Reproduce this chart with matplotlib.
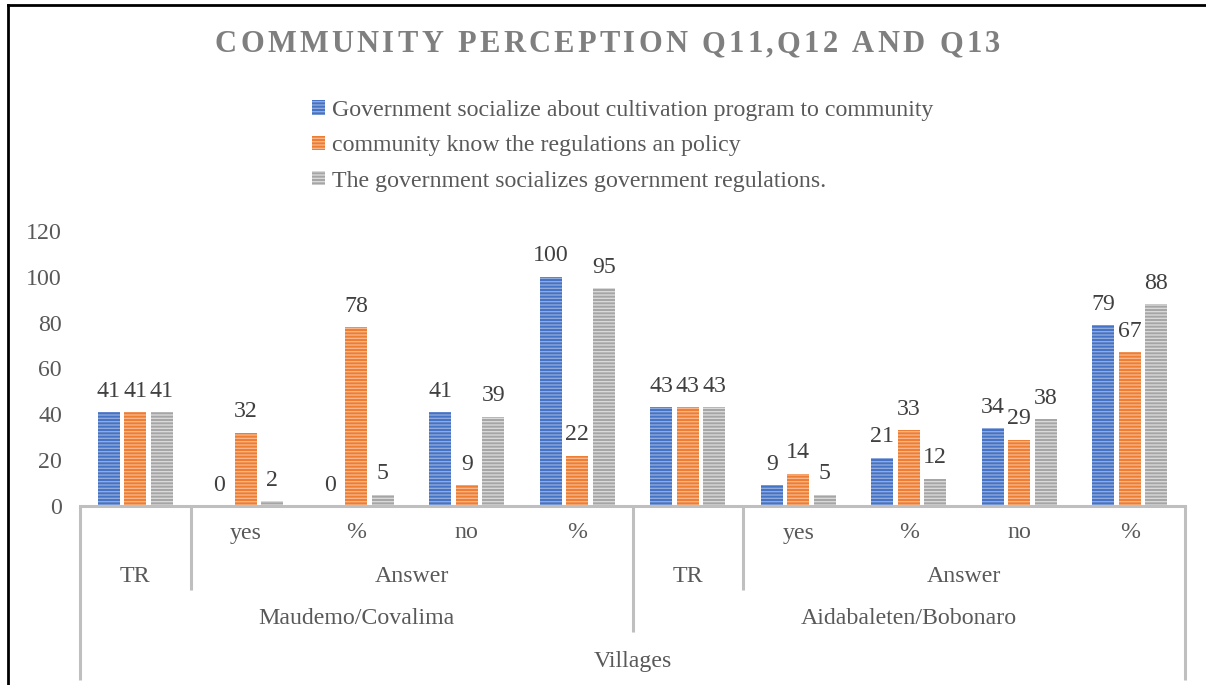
import matplotlib
matplotlib.use("Agg")
import matplotlib.pyplot as plt
import matplotlib.transforms as mtransforms
import numpy as np

# data
answers = ["TR", "yes", "%", "no", "%", "TR", "yes", "%", "no", "%"]
gov_socialize_program = [41, 0, 0, 41, 100, 43, 9, 21, 34, 79]
community_know_regs = [41, 32, 78, 9, 22, 43, 14, 33, 29, 67]
gov_socialize_regs = [41, 2, 5, 39, 95, 43, 5, 12, 38, 88]
series_names = ["Government socialize about cultivation program to community",
                "community know the regulations an policy",
                "The government socializes government regulations."]
villages = ["Maudemo/Covalima", "Aidabaleten/Bobonaro"]

plt.rcParams['font.family'] = ['Liberation Serif', 'DejaVu Serif']
plt.rcParams['hatch.linewidth'] = 1.0

colors = ["#4472C4", "#ED7D31", "#A5A5A5"]
stripes = ["#8FAADC", "#F6B58A", "#D9D9D9"]
axis_grey = "#BFBFBF"
text_grey = "#595959"
fs = 17.2

W, H = 1206, 685
fig = plt.figure(figsize=(W/100, H/100), dpi=100)
ax = fig.add_axes([80/W, 1-506/H, 1105/W, 275/H])

x = np.arange(len(answers))
width = 0.2
step = 0.24
bars = []
for i, vals in enumerate([gov_socialize_program, community_know_regs, gov_socialize_regs]):
    b = ax.bar(x + (i-1)*step, vals, width, color=colors[i], edgecolor=stripes[i],
               linewidth=0, hatch='-----', label=series_names[i])
    bars.append(b)
    for rect, v in zip(b, vals):
        ax.annotate(str(v), (rect.get_x() + rect.get_width()/2, v),
                    xytext=(0, 7.5), textcoords='offset points',
                    ha='center', va='bottom', fontsize=fs, color="#404040")

ax.set_xlim(-0.5, len(answers)-0.5)
ax.set_ylim(0, 120)
ax.set_yticks(range(0, 121, 20))
ax.tick_params(axis='y', length=0, pad=13, labelsize=fs, labelcolor=text_grey)
ax.set_xticks([])
for s in ['top', 'right', 'left']:
    ax.spines[s].set_visible(False)
ax.spines['bottom'].set_color(axis_grey)
ax.spines['bottom'].set_linewidth(2.2)

# multi-level category axis below the plot
trans = mtransforms.blended_transform_factory(ax.transData, fig.transFigure)
def fy(py):
    return 1 - py/H

for b_pos, bottom in [(-0.5, 680), (0.5, 590), (4.5, 632), (5.5, 590), (9.5, 680)]:
    ax.plot([b_pos, b_pos], [fy(506), fy(bottom)], transform=trans, color=axis_grey,
            lw=2.2, clip_on=False, solid_capstyle='butt')

lab_kw = dict(transform=trans, ha='center', va='center', fontsize=fs, color=text_grey)
for xi, a in zip(x, answers):
    if a != "TR":
        ax.text(xi, fy(533), a, **lab_kw)
    else:
        ax.text(xi, fy(576), a, **lab_kw)
ax.text(2.5, fy(576), "Answer", **lab_kw)
ax.text(7.5, fy(576), "Answer", **lab_kw)
ax.text(2, fy(619), villages[0], **lab_kw)
ax.text(7, fy(619), villages[1], **lab_kw)
ax.text(4.5, fy(662), "Villages", **lab_kw)

# title, letter-spaced: place each character so the line spans ~785 px
title = "COMMUNITY PERCEPTION Q11,Q12 AND Q13"
renderer = fig.canvas.get_renderer()
tkw = dict(fontsize=22, fontweight='bold', color="#7F7F7F", va='center', ha='left')
chars = []
for ch in title:
    t = fig.text(0, 1-45/H, ch, **tkw)
    chars.append((t, t.get_window_extent(renderer).width))
total = 785
gap = (total - sum(w for _, w in chars)) / (len(chars) - 1)
xpos = 215
for t, w in chars:
    t.set_x(xpos / W)
    xpos += w + gap

leg = fig.legend(handles=bars, loc='upper left', bbox_to_anchor=(312/W, 1-100/H),
                 frameon=False, fontsize=fs, labelcolor=text_grey,
                 handlelength=0.55, handleheight=0.55, handletextpad=0.3,
                 labelspacing=0.6, borderaxespad=0, borderpad=0)

# frame lines on left and top of the picture
fig.add_artist(plt.Line2D([8/W, 8/W], [0, 1-5/H], color='black', lw=2))
fig.add_artist(plt.Line2D([8/W, 1], [1-5/H, 1-5/H], color='black', lw=2))

fig.savefig("out.png", dpi=100)
